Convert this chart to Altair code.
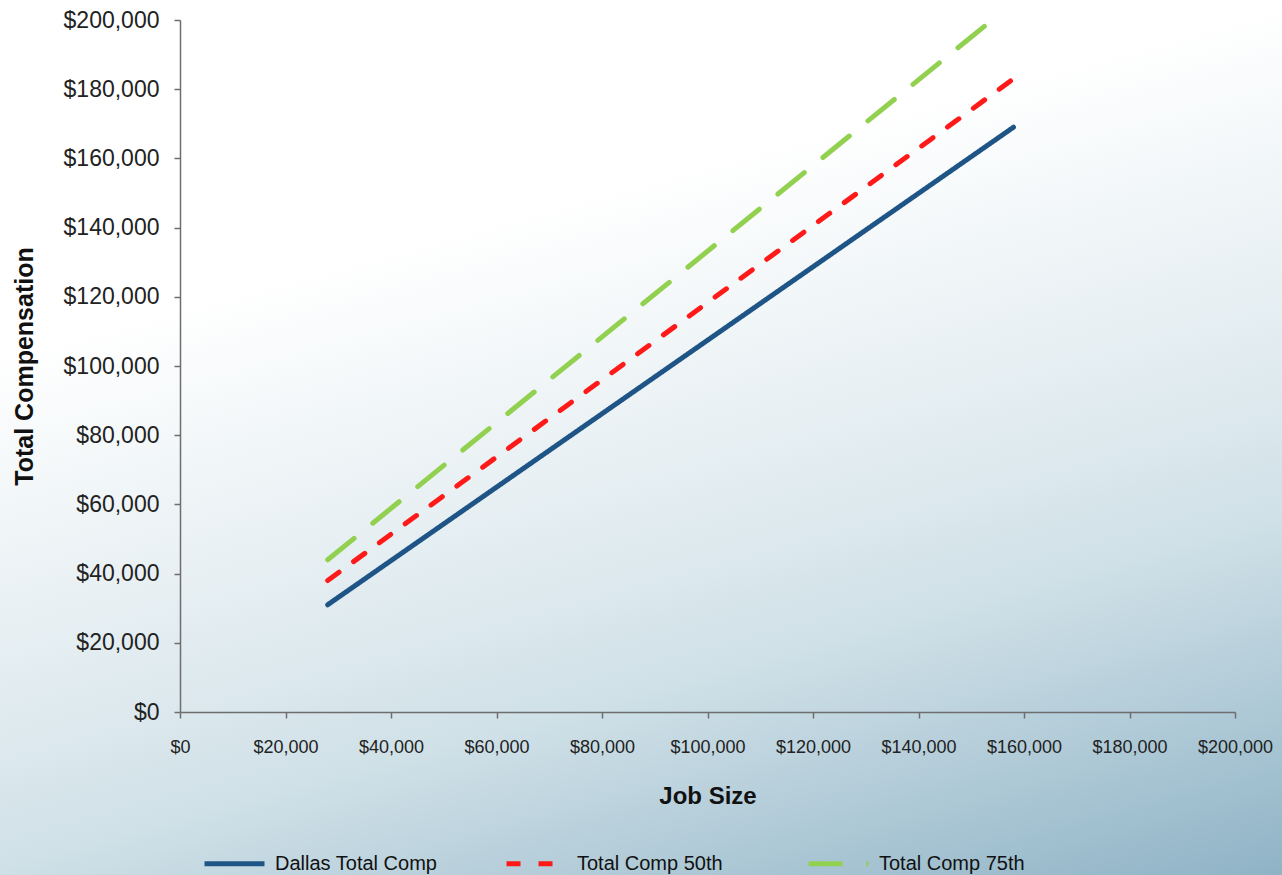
import altair as alt
import pandas as pd

# Salary lines: job size (x) against total compensation (y)
series_names = ["Dallas Total Comp", "Total Comp 50th", "Total Comp 75th"]
job_size = [28000, 158000]
dallas_comp = [31000, 169000]
comp_50th = [38000, 183000]
comp_75th = [44000, 205000]

series_colors = ["#1f5586", "#ff1a1a", "#92d050"]
series_dashes = [[1, 0], [14, 18], [34, 24]]

rows = []
for name, values in zip(series_names, [dallas_comp, comp_50th, comp_75th]):
    for xv, yv in zip(job_size, values):
        rows.append({"series": name, "job_size": xv, "total_comp": yv})
df = pd.DataFrame(rows)

W, H = 1055, 692
PAD = {"left": 180, "top": 20, "right": 47, "bottom": 163}

# Soft white-to-steel-blue backdrop across the whole canvas
backdrop = alt.Chart(pd.DataFrame({"k": [0]})).mark_rect(
    fill=alt.Gradient(
        gradient="linear",
        x1=0, y1=0, x2=0.483, y2=1.207,
        stops=[
            alt.GradientStop(offset=0.0, color="#ffffff"),
            alt.GradientStop(offset=0.29, color="#ffffff"),
            alt.GradientStop(offset=0.51, color="#e8f0f3"),
            alt.GradientStop(offset=0.61, color="#dde9ee"),
            alt.GradientStop(offset=0.71, color="#cfe0e7"),
            alt.GradientStop(offset=1.0, color="#8fb3c6"),
        ],
    )
).encode(
    x=alt.value(-PAD["left"]),
    x2=alt.value(W + PAD["right"]),
    y=alt.value(-PAD["top"]),
    y2=alt.value(H + PAD["bottom"]),
)

axis_style = dict(
    grid=False,
    zindex=2,
    format="$,.0f",
    values=list(range(0, 200001, 20000)),
    labelOverlap=False,
    labelFlush=False,
    domainColor="#6e6e6e",
    domainWidth=1.5,
    tickColor="#6e6e6e",
    tickWidth=1.5,
    tickSize=6,
    labelColor="#222222",
    titleColor="#111111",
    titleFontWeight="bold",
)

lines = alt.Chart(df).mark_line(strokeWidth=5, strokeCap="round", clip=True).encode(
    x=alt.X(
        "job_size:Q",
        title="Job Size",
        scale=alt.Scale(domain=[0, 200000], nice=False),
        axis=alt.Axis(labelFontSize=18, labelPadding=20, titleFontSize=24,
                      titlePadding=28, **axis_style),
    ),
    y=alt.Y(
        "total_comp:Q",
        title="Total Compensation",
        scale=alt.Scale(domain=[0, 200000], nice=False),
        axis=alt.Axis(labelFontSize=23, labelPadding=15, titleFontSize=25,
                      titlePadding=26, **axis_style),
    ),
    color=alt.Color(
        "series:N",
        scale=alt.Scale(domain=series_names, range=series_colors),
        legend=alt.Legend(
            title=None,
            orient="none",
            direction="horizontal",
            legendX=22,
            legendY=H + 119,
            symbolType="stroke",
            symbolSize=3600,
            symbolStrokeWidth=5,
            labelFontSize=20,
            labelColor="#111111",
            labelOffset=8,
            gridAlign="all",
            columnPadding=58,
            labelLimit=400,
        ),
    ),
    strokeDash=alt.StrokeDash(
        "series:N",
        scale=alt.Scale(domain=series_names, range=series_dashes),
        legend=None,
    ),
    detail="series:N",
)

chart = (
    alt.layer(backdrop, lines)
    .properties(
        width=W,
        height=H,
        padding=PAD,
        autosize=alt.AutoSizeParams(type="none"),
    )
    .configure(font="Liberation Sans")
    .configure_view(strokeWidth=0)
    .configure_axis(labelFont="Liberation Sans", titleFont="Liberation Sans")
    .configure_legend(labelFont="Liberation Sans")
)

chart.save("out.html", embed_options={"renderer": "svg", "actions": False})
